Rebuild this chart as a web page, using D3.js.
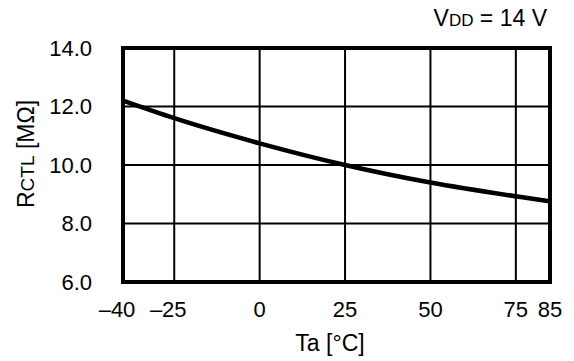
<!DOCTYPE html>
<html>
<head>
<meta charset="utf-8">
<script src="https://cdn.jsdelivr.net/npm/d3@7"></script>
<style>
  body { margin: 0; background: #fff; }
  svg { display: block; font-family: "Liberation Sans", Arial, sans-serif; }
</style>
</head>
<body>
<svg></svg>
<script>
// data
const temps = [-40, -25, 0, 25, 50, 75, 85];
const rctl = [12.2, 11.6, 10.74, 10.0, 9.4, 8.93, 8.76];
const xTicks = [-40, -25, 0, 25, 50, 75, 85];
const yTicks = [6, 8, 10, 12, 14];

const width = 574, height = 361;
const margin = {top: 48, right: 24, bottom: 79, left: 123};

const svg = d3.select("svg").attr("width", width).attr("height", height);

const x = d3.scaleLinear().domain([-40, 85]).range([margin.left, width - margin.right]);
const y = d3.scaleLinear().domain([6, 14]).range([height - margin.bottom, margin.top]);

//Grid
svg.append("g").selectAll("line")
  .data(xTicks.slice(1, -1))
  .join("line")
  .attr("x1", d => x(d)).attr("x2", d => x(d))
  .attr("y1", y(6)).attr("y2", y(14))
  .attr("stroke", "#000").attr("stroke-width", 2);

svg.append("g").selectAll("line")
  .data(yTicks.slice(1, -1))
  .join("line")
  .attr("x1", x(-40)).attr("x2", x(85))
  .attr("y1", d => y(d)).attr("y2", d => y(d))
  .attr("stroke", "#000").attr("stroke-width", 2);

//Curve
const line = d3.line().x((d, i) => x(temps[i])).y(d => y(d)).curve(d3.curveMonotoneX);
svg.append("path")
  .datum(rctl)
  .attr("d", line)
  .attr("fill", "none")
  .attr("stroke", "#000")
  .attr("stroke-width", 4.5);

//Frame
svg.append("rect")
  .attr("x", x(-40)).attr("y", y(14))
  .attr("width", x(85) - x(-40)).attr("height", y(6) - y(14))
  .attr("fill", "none").attr("stroke", "#000").attr("stroke-width", 4);

//Tick labels
svg.append("g").selectAll("text")
  .data(yTicks)
  .join("text")
  .attr("x", 92)
  .attr("y", d => y(d))
  .attr("dy", "0.36em")
  .attr("text-anchor", "end")
  .attr("font-size", 22)
  .text(d => d.toFixed(1));

svg.append("g").selectAll("text")
  .data(xTicks)
  .join("text")
  .attr("x", d => x(d) + (d < 0 ? -6 : 0))
  .attr("y", 317)
  .attr("text-anchor", "middle")
  .attr("font-size", 22)
  .text(d => (d < 0 ? "\u2013" + Math.abs(d) : d));

//Axis titles
svg.append("text")
  .attr("x", 330).attr("y", 351)
  .attr("text-anchor", "middle")
  .attr("font-size", 23)
  .text("Ta [\u00B0C]");

const yl = svg.append("text")
  .attr("transform", "translate(34,154) rotate(-90)")
  .attr("text-anchor", "middle")
  .attr("font-size", 23);
yl.append("tspan").text("R");
yl.append("tspan").attr("font-size", 19).text("CTL");
yl.append("tspan").text(" [M\u03A9]");

const vdd = svg.append("text")
  .attr("x", 547).attr("y", 26)
  .attr("text-anchor", "end")
  .attr("font-size", 23);
vdd.append("tspan").text("V");
vdd.append("tspan").attr("font-size", 17).text("DD");
vdd.append("tspan").text(" = 14 V");
</script>
</body>
</html>
